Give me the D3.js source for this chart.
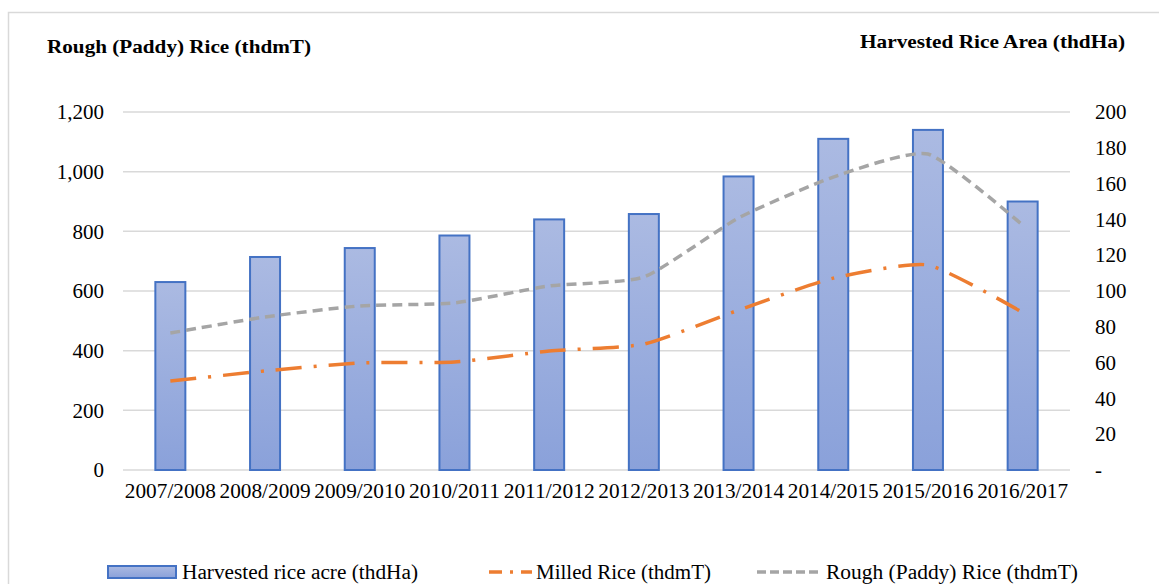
<!DOCTYPE html>
<html>
<head>
<meta charset="utf-8">
<script src="https://cdn.jsdelivr.net/npm/d3@7"></script>
<style>
  body { margin: 0; background: #fff; }
  svg { display: block; font-family: "Liberation Serif", "Times New Roman", serif; }
</style>
</head>
<body>
<svg id="chart" width="1159" height="584"></svg>
<script>
// seasons on the x axis
const seasons = ['2007/2008', '2008/2009', '2009/2010', '2010/2011', '2011/2012',
                 '2012/2013', '2013/2014', '2014/2015', '2015/2016', '2016/2017'];
// bars, right axis (thdHa)
const harvestedArea = [105, 119, 124, 131, 140, 143, 164, 185, 190, 150];
// lines, left axis (thdmT)
const milledRice = [298, 332, 359, 362, 399, 422, 536, 643, 687, 528];
const roughRice = [459, 513, 550, 560, 617, 647, 845, 982, 1059, 821];

const leftTicks = [0, 200, 400, 600, 800, 1000, 1200];
const rightTicks = [0, 20, 40, 60, 80, 100, 120, 140, 160, 180, 200];

const svg = d3.select('#chart');
const margin = { top: 112, bottom: 114, left: 123, right: 89 };
const width = 1159, height = 584;
const serif = '"Liberation Serif", "Times New Roman", serif';

// outer frame
svg.append('rect')
    .attr('x', 8.5).attr('y', 12.5)
    .attr('width', 1200).attr('height', 600)
    .attr('fill', 'none').attr('stroke', '#d9d9d9').attr('stroke-width', 1.5);

const x = d3.scaleBand()
    .domain(seasons)
    .range([margin.left, width - margin.right]);
const yLeft = d3.scaleLinear().domain([0, 1200]).range([height - margin.bottom, margin.top]);
const yRight = d3.scaleLinear().domain([0, 200]).range([height - margin.bottom, margin.top]);

// gradient for bars
const defs = svg.append('defs');
const grad = defs.append('linearGradient')
    .attr('id', 'barGrad').attr('x1', 0).attr('y1', 0).attr('x2', 0).attr('y2', 1);
grad.append('stop').attr('offset', '0%').attr('stop-color', '#abbae2');
grad.append('stop').attr('offset', '100%').attr('stop-color', '#8aa1da');

// gridlines
svg.append('g')
    .selectAll('line')
    .data(leftTicks)
    .join('line')
    .attr('x1', margin.left).attr('x2', width - margin.right)
    .attr('y1', d => yLeft(d)).attr('y2', d => yLeft(d))
    .attr('stroke', '#d9d9d9').attr('stroke-width', 1.5);

function styleAxis(g) {
    g.attr('font-family', serif).attr('font-size', 21);
    g.select('.domain').remove();
    g.selectAll('text').attr('fill', '#000');
}

// left axis
svg.append('g')
    .attr('transform', `translate(${margin.left - 19},0)`)
    .call(d3.axisLeft(yLeft).tickValues(leftTicks).tickSize(0).tickPadding(0).tickFormat(d3.format(',')))
    .call(styleAxis);

// right axis
svg.append('g')
    .attr('transform', `translate(${width - margin.right + 25},0)`)
    .call(d3.axisRight(yRight).tickValues(rightTicks).tickSize(0).tickPadding(0)
        .tickFormat(d => d === 0 ? '-' : d))
    .call(styleAxis);

// x axis labels
const xAxis = svg.append('g')
    .attr('transform', `translate(0,${height - margin.bottom + 8})`)
    .call(d3.axisBottom(x).tickSize(0).tickPadding(0))
    .call(styleAxis);
xAxis.selectAll('text')
    .attr('dy', '0.95em').attr('textLength', 91).attr('lengthAdjust', 'spacingAndGlyphs');

// bars
const barW = 30;
svg.append('g')
    .selectAll('rect')
    .data(harvestedArea)
    .join('rect')
    .attr('x', (d, i) => x(seasons[i]) + x.bandwidth() / 2 - barW / 2)
    .attr('y', d => yRight(d))
    .attr('width', barW)
    .attr('height', d => yRight(0) - yRight(d))
    .attr('fill', 'url(#barGrad)')
    .attr('stroke', '#4472c4').attr('stroke-width', 2);

// lines
const line = d3.line()
    .x((d, i) => x(seasons[i]) + x.bandwidth() / 2)
    .y(d => yLeft(d))
    .curve(d3.curveCardinal.tension(0.45));

svg.append('path')
    .datum(roughRice)
    .attr('d', line)
    .attr('fill', 'none')
    .attr('stroke', '#a5a5a5').attr('stroke-width', 3.5)
    .attr('stroke-dasharray', '10,6');

svg.append('path')
    .datum(milledRice)
    .attr('d', line)
    .attr('fill', 'none')
    .attr('stroke', '#ed7d31').attr('stroke-width', 3.5)
    .attr('stroke-dasharray', '26,12,3,12');

// axis titles
svg.append('text')
    .attr('x', 47).attr('y', 53)
    .attr('font-size', 19).attr('font-weight', 'bold')
    .attr('textLength', 264).attr('lengthAdjust', 'spacingAndGlyphs')
    .text('Rough (Paddy) Rice (thdmT)');
svg.append('text')
    .attr('x', 860).attr('y', 48)
    .attr('font-size', 19).attr('font-weight', 'bold')
    .attr('textLength', 265).attr('lengthAdjust', 'spacingAndGlyphs')
    .text('Harvested Rice Area (thdHa)');

// legend
const legend = svg.append('g').attr('font-size', 20);
const ly = 572;
legend.append('rect')
    .attr('x', 108).attr('y', ly - 6).attr('width', 68).attr('height', 12)
    .attr('fill', 'url(#barGrad)').attr('stroke', '#4472c4').attr('stroke-width', 2);
legend.append('text').attr('x', 182).attr('y', ly).attr('dy', '0.35em')
    .attr('textLength', 236).attr('lengthAdjust', 'spacingAndGlyphs')
    .text('Harvested rice acre (thdHa)');

legend.append('line')
    .attr('x1', 489).attr('x2', 532).attr('y1', ly).attr('y2', ly)
    .attr('stroke', '#ed7d31').attr('stroke-width', 3.5)
    .attr('stroke-dasharray', '13,8,3,8');
legend.append('text').attr('x', 536).attr('y', ly).attr('dy', '0.35em')
    .attr('textLength', 175).attr('lengthAdjust', 'spacingAndGlyphs')
    .text('Milled Rice (thdmT)');

legend.append('line')
    .attr('x1', 757).attr('x2', 822).attr('y1', ly).attr('y2', ly)
    .attr('stroke', '#a5a5a5').attr('stroke-width', 3.5)
    .attr('stroke-dasharray', '9,4');
legend.append('text').attr('x', 826).attr('y', ly).attr('dy', '0.35em')
    .attr('textLength', 252).attr('lengthAdjust', 'spacingAndGlyphs')
    .text('Rough (Paddy) Rice (thdmT)');
</script>
</body>
</html>
